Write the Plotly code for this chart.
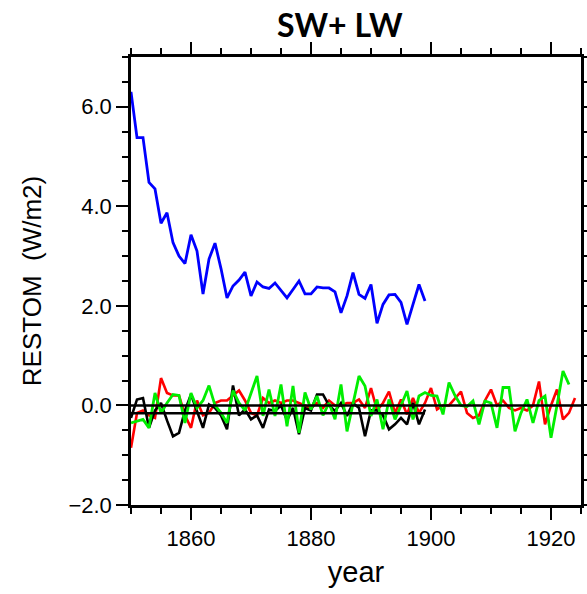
import plotly.graph_objects as go
import numpy as np

years_blue = list(range(1850, 1900))
blue = [6.30, 5.38, 5.38, 4.48, 4.35, 3.66, 3.87, 3.27, 3.00, 2.85,
        3.43, 3.10, 2.24, 2.94, 3.26, 2.75, 2.16, 2.40, 2.52, 2.68,
        2.20, 2.48, 2.38, 2.35, 2.46, 2.30, 2.16, 2.33, 2.50, 2.24,
        2.24, 2.38, 2.36, 2.36, 2.28, 1.86, 2.20, 2.67, 2.23, 2.15,
        2.43, 1.65, 2.03, 2.22, 2.23, 2.07, 1.63, 2.03, 2.43, 2.10]

years_black = list(range(1850, 1900))
black = [-0.25, 0.12, 0.15, -0.45, -0.10, 0.05, -0.30, -0.62, -0.55, -0.10,
         0.22, -0.10, -0.45, 0.02, -0.05, -0.20, -0.48, 0.40, -0.20, -0.08,
         -0.28, -0.20, -0.45, -0.08, -0.11, 0.00, -0.30, -0.05, -0.58, -0.05,
         -0.10, 0.22, 0.22, 0.00, -0.11, 0.05, -0.21, 0.05, -0.05, -0.62,
         -0.10, -0.10, -0.20, -0.48, -0.38, -0.25, -0.38, 0.05, -0.38, -0.08]

years_long = list(range(1850, 1925))
red = [-0.85, -0.15, -0.10, -0.20, -0.25, 0.55, 0.25, 0.20, 0.20, -0.20,
       -0.45, 0.10, -0.20, -0.15, 0.05, 0.10, 0.10, 0.20, 0.30, 0.10,
       -0.15, -0.20, 0.15, 0.05, 0.10, 0.05, 0.10, 0.10, 0.05, 0.00,
       -0.05, 0.05, -0.05, 0.10, 0.00, 0.00, 0.05, 0.05, 0.12, -0.05,
       0.35, -0.10, 0.05, 0.28, -0.15, 0.12, -0.18, 0.15, -0.15, 0.05,
       0.35, -0.08, 0.00, 0.00, 0.15, 0.28, -0.15, -0.25, -0.20, 0.10,
       0.32, 0.00, 0.10, -0.05, -0.10, -0.05, -0.10, 0.00, 0.48, -0.38,
       0.00, 0.32, -0.28, -0.15, 0.15]
green = [-0.35, -0.32, -0.28, -0.45, 0.25, -0.15, 0.05, 0.22, 0.20, -0.35,
         0.25, -0.05, 0.10, 0.40, 0.00, -0.15, -0.35, 0.30, 0.05, -0.10,
         0.25, 0.59, -0.21, 0.32, -0.21, 0.42, -0.42, 0.39, -0.55, 0.26,
         -0.08, 0.19, -0.20, 0.05, -0.28, 0.42, -0.52, 0.05, 0.59, 0.39,
         -0.21, 0.12, -0.48, 0.12, -0.28, 0.00, 0.29, -0.28, 0.19, 0.26,
         0.20, 0.19, -0.18, 0.46, 0.20, 0.00, -0.02, 0.09, -0.38, 0.09,
         0.05, -0.45, 0.36, 0.36, -0.52, -0.15, 0.12, -0.35, 0.10, 0.19,
         -0.65, 0.00, 0.69, 0.42]

x_ticks = [1860, 1880, 1900, 1920]
y_ticks = [-2, 0, 2, 4, 6]
y_ticktext = ["\u22122.0", "0.0", "2.0", "4.0", "6.0"]

fig = go.Figure()
fig.add_trace(go.Scatter(x=years_long[:len(red)], y=red, mode="lines",
                         line=dict(color="#ff0000", width=2.6)))
fig.add_trace(go.Scatter(x=years_black, y=black, mode="lines",
                         line=dict(color="#000000", width=2.6)))
fig.add_trace(go.Scatter(x=years_long[:len(green)], y=green, mode="lines",
                         line=dict(color="#00ee00", width=2.8)))
fig.add_trace(go.Scatter(x=years_blue, y=blue, mode="lines",
                         line=dict(color="#0000ff", width=2.8)))

# zero reference line and black mean line
fig.add_trace(go.Scatter(x=[1850, 1925], y=[0, 0], mode="lines",
                         line=dict(color="#000000", width=2.5)))
bm = float(np.mean(black))
fig.add_trace(go.Scatter(x=[years_black[0], years_black[-1]], y=[bm, bm],
                         mode="lines", line=dict(color="#000000", width=2.5)))

axis_font = dict(family="Liberation Sans, Arial, sans-serif", size=22, color="#000000")

fig.update_layout(
    width=587, height=594,
    margin=dict(l=131, r=6, t=57, b=89, autoexpand=False),
    paper_bgcolor="white", plot_bgcolor="white",
    showlegend=False,
    font=axis_font,
    annotations=[dict(text="<b>SW+ LW</b>", x=0.465, y=1.12, xref="paper",
                      yref="paper", xanchor="center", yanchor="top",
                      showarrow=False,
                      font=dict(family="Lato, Open Sans, sans-serif", size=32,
                                color="#000000"))],
)
fig.update_xaxes(
    range=[1850, 1925], tickvals=x_ticks, ticktext=[str(v) for v in x_ticks],
    ticks="outside", ticklen=12, tickwidth=2.2, tickcolor="black",
    showline=True, linewidth=2.5, linecolor="black", mirror="allticks",
    showgrid=False, zeroline=False, automargin=False,
    minor=dict(dtick=5, ticks="outside", ticklen=6, tickwidth=1.5, tickcolor="black"),
    tickfont=axis_font,
    title=dict(text="year", font=dict(family="Liberation Sans, Arial, sans-serif", size=29), standoff=12),
)
fig.update_yaxes(
    range=[-2, 7], tickvals=y_ticks, ticktext=y_ticktext,
    ticks="outside", ticklen=12, tickwidth=2.2, tickcolor="black",
    showline=True, linewidth=2.5, linecolor="black", mirror="allticks",
    showgrid=False, zeroline=False, automargin=False,
    minor=dict(dtick=0.5, ticks="outside", ticklen=6, tickwidth=1.5, tickcolor="black"),
    tickfont=axis_font,
    title=dict(text="RESTOM  (W/m2)", font=dict(family="Liberation Sans, Arial, sans-serif", size=26), standoff=20),
)

fig.write_html("out.html")
